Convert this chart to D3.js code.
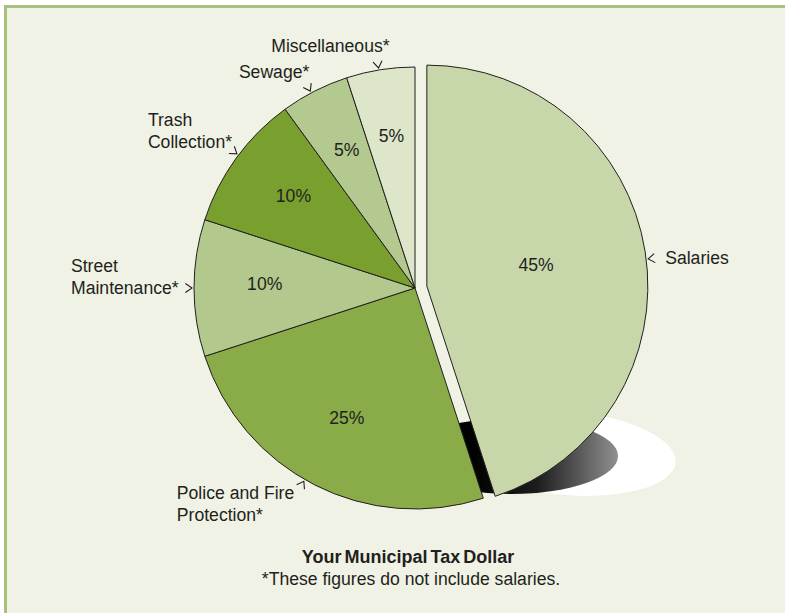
<!DOCTYPE html>
<html>
<head>
<meta charset="utf-8">
<script src="https://cdn.jsdelivr.net/npm/d3@7"></script>
<style>
  html, body { margin: 0; padding: 0; background: #fff; }
  svg { display: block; }
  text { font-family: "Liberation Sans", Arial, Helvetica, sans-serif; fill: #231f20; }
</style>
</head>
<body>
<svg id="chart"></svg>
<script>
// chart data
var categories = ['Salaries', 'Police and Fire Protection*', 'Street Maintenance*', 'Trash Collection*', 'Sewage*', 'Miscellaneous*'];
var shares = [45, 25, 10, 10, 5, 5];
var labelLines = [['Salaries'], ['Police and Fire', 'Protection*'], ['Street', 'Maintenance*'], ['Trash', 'Collection*'], ['Sewage*'], ['Miscellaneous*']];
var title = 'Your Municipal Tax Dollar';
var footnote = '*These figures do not include salaries.';

// page size
var width = 785;
var height = 613;

var cx = 415, cy = 288;
var radius = 221;
var explode = 12;	// salaries slice pulled out
var fontSize = '17.6px';

var color = d3.scaleOrdinal()
	.domain(categories)
	.range(['#c8d7a9', '#89ab48', '#b2c88c', '#799f2f', '#b3c98f', '#dde6c9']);

// where the callout arrows sit (degrees clockwise from 12 o'clock) and text offset from arrow tip
var callout = [
	{ angle: 83, dx: 17, dy: 5, anchor: 'start' },
	{ angle: 209.9, dx: -127, dy: 18, anchor: 'start' },
	{ angle: 270, dx: -121, dy: -16, anchor: 'start' },
	{ angle: 307, dx: -89, dy: -28, anchor: 'start' },
	{ angle: 332, dx: -1, dy: -13, anchor: 'end' },
	{ angle: 350.6, dx: 11, dy: -16, anchor: 'end' }
];
var lineHeight = 22;

var svg = d3.select('#chart')
	.attr('width', width)
	.attr('height', height);

// panel with green border on top / left
svg.append('rect')
	.attr('x', 5.5).attr('y', 6.5)
	.attr('width', width + 20).attr('height', height + 20)
	.attr('fill', '#eff2e4')
	.attr('stroke', '#a7c27b')
	.attr('stroke-width', 3);

var defs = svg.append('defs');
var grad = defs.append('linearGradient')
	.attr('id', 'shade')
	.attr('gradientUnits', 'userSpaceOnUse')
	.attr('x1', 470).attr('y1', 0)
	.attr('x2', 618).attr('y2', 0);
grad.append('stop').attr('offset', '0%').attr('stop-color', '#000');
grad.append('stop').attr('offset', '45%').attr('stop-color', '#1c1c1c');
grad.append('stop').attr('offset', '100%').attr('stop-color', '#909090');

// shadow under the pulled out slice
svg.append('ellipse')
	.attr('cx', 566).attr('cy', 453)
	.attr('rx', 110).attr('ry', 42)
	.attr('transform', 'rotate(5,566,453)')
	.attr('fill', '#fff');
svg.append('ellipse')
	.attr('cx', 512).attr('cy', 456)
	.attr('rx', 106).attr('ry', 38)
	.attr('fill', 'url(#shade)');

var pie = d3.pie()
	.sort(null)
	.value(function(d) { return d; });

var arcs = pie(shares);

var arc = d3.arc()
	.innerRadius(0)
	.outerRadius(radius);

function offset(d) {
	if (d.index !== 0) return [0, 0];
	var mid = (d.startAngle + d.endAngle) / 2;
	return [explode * Math.sin(mid), -explode * Math.cos(mid)];
}

var g = svg.append('g')
	.attr('transform', 'translate(' + cx + ',' + cy + ')');

var slices = g.selectAll('.slice')
	.data(arcs)
	.enter()
	.append('g')
	.attr('class', 'slice')
	.attr('transform', function(d) {
		var o = offset(d);
		return 'translate(' + o[0] + ',' + o[1] + ')';
	});

slices.append('path')
	.attr('d', arc)
	.attr('fill', function(d, i) { return color(categories[i]); })
	.attr('stroke', '#231f20')
	.attr('stroke-width', 1)
	.attr('stroke-linejoin', 'round');

// percent labels inside slices
slices.append('text')
	.attr('transform', function(d) {
		var r = d.index === 0 ? radius * 0.5 : radius * 0.68;
		var c = d3.arc().innerRadius(r).outerRadius(r).centroid(d);
		return 'translate(' + c[0] + ',' + c[1] + ')';
	})
	.attr('text-anchor', 'middle')
	.attr('dy', '0.12em')
	.style('font-size', fontSize)
	.text(function(d) { return d.data + '%'; });

// callouts with small arrowheads
slices.each(function(d, i) {
	var c = callout[i];
	var a = c.angle * Math.PI / 180;
	var ux = Math.sin(a), uy = -Math.cos(a);
	var tx = (radius + 2) * ux, ty = (radius + 2) * uy;
	var len = 8, spread = 0.6;
	var p1 = [tx + len * (ux * Math.cos(spread) - uy * Math.sin(spread)), ty + len * (uy * Math.cos(spread) + ux * Math.sin(spread))];
	var p2 = [tx + len * (ux * Math.cos(spread) + uy * Math.sin(spread)), ty + len * (uy * Math.cos(spread) - ux * Math.sin(spread))];
	var sel = d3.select(this);
	sel.append('path')
		.attr('d', 'M' + p1 + 'L' + [tx, ty] + 'L' + p2)
		.attr('fill', 'none')
		.attr('stroke', '#231f20')
		.attr('stroke-width', 1.1);
	var t = sel.append('text')
		.attr('x', tx + c.dx)
		.attr('y', ty + c.dy)
		.attr('text-anchor', c.anchor)
		.style('font-size', fontSize);
	labelLines[i].forEach(function(line, k) {
		t.append('tspan')
			.attr('x', tx + c.dx)
			.attr('dy', k === 0 ? 0 : lineHeight)
			.text(line);
	});
});

// title and footnote
svg.append('text')
	.attr('x', 408).attr('y', 563)
	.attr('text-anchor', 'middle')
	.style('font-size', '18px')
	.style('font-weight', 'bold')
	.style('word-spacing', '-2px')
	.text(title);

svg.append('text')
	.attr('x', 411).attr('y', 585)
	.attr('text-anchor', 'middle')
	.style('font-size', fontSize)
	.text(footnote);
</script>
</body>
</html>
